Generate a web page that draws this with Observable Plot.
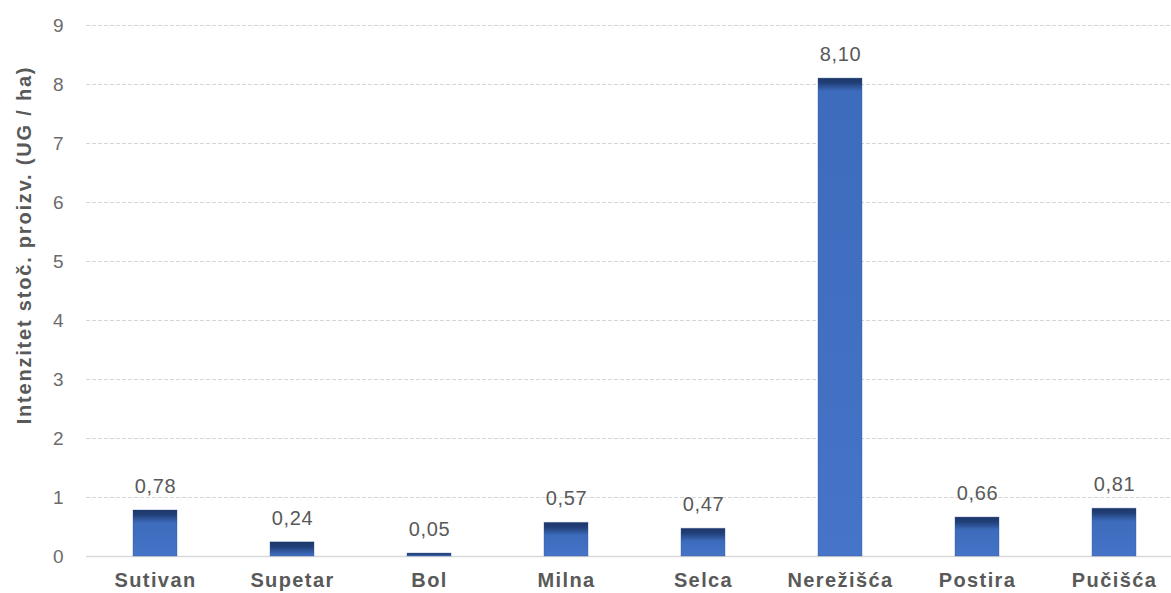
<!DOCTYPE html>
<html>
<head>
<meta charset="utf-8">
<script src="https://cdn.jsdelivr.net/npm/d3@7"></script>
<script src="https://cdn.jsdelivr.net/npm/@observablehq/plot@0.6"></script>
<style>
  html, body { margin: 0; padding: 0; background: #fff; }
  #chart svg { display: block; font-family: "Liberation Sans", Arial, sans-serif; }
  #chart g[aria-label="x-axis tick label"] text { letter-spacing: 1.4px; }
</style>
</head>
<body>
<div id="chart"></div>
<script>
const categories = ["Sutivan", "Supetar", "Bol", "Milna", "Selca", "Nerežišća", "Postira", "Pučišća"];
const values = [0.78, 0.24, 0.05, 0.57, 0.47, 8.10, 0.66, 0.81];
const yTicks = [0, 1, 2, 3, 4, 5, 6, 7, 8, 9];
const yTitle = "Intenzitet stoč. proizv. (UG / ha)";

const data = categories.map((c, i) => ({name: c, value: values[i]}));
const fmt = v => v.toFixed(2).replace(".", ",");

let gradCount = 0;
function gradientBars(index, scales, values, dimensions, context, next) {
  const g = next(index, scales, values, dimensions, context);
  const svg = context.ownerSVGElement;
  let defs = svg.querySelector("defs");
  if (!defs) { defs = document.createElementNS("http://www.w3.org/2000/svg", "defs"); svg.insertBefore(defs, svg.firstChild); }
  g.querySelectorAll("rect").forEach(r => {
    const h = +r.getAttribute("height");
    const id = "bg" + (gradCount++);
    const lg = document.createElementNS("http://www.w3.org/2000/svg", "linearGradient");
    lg.setAttribute("id", id);
    lg.setAttribute("x1", 0); lg.setAttribute("y1", 0); lg.setAttribute("x2", 0); lg.setAttribute("y2", 1);
    const t = Math.min(1, 13 / Math.max(h, 1));
    [[0, "#1c3566"], [t * 0.4, "#22417a"], [t, "#3d6cbd"], [1, "#4574c8"]].forEach(([o, c]) => {
      const s = document.createElementNS("http://www.w3.org/2000/svg", "stop");
      s.setAttribute("offset", o); s.setAttribute("stop-color", c);
      lg.appendChild(s);
    });
    defs.appendChild(lg);
    r.setAttribute("fill", `url(#${id})`);
  });
  return g;
}
function spacing(px) {
  return (index, scales, values, dimensions, context, next) => {
    const g = next(index, scales, values, dimensions, context);
    g.querySelectorAll("text").forEach(t => t.setAttribute("letter-spacing", px));
    return g;
  };
}

const chart = Plot.plot({
  width: 1171,
  height: 593,
  marginLeft: 86,
  marginRight: 0,
  marginTop: 25,
  marginBottom: 37,
  style: {fontFamily: "'Liberation Sans', Arial, sans-serif", fontSize: "20px", color: "#595959", background: "#fff"},
  x: {domain: categories, range: [86, 1182], paddingInner: 0.68, paddingOuter: 0.34, label: null},
  y: {domain: [0, 9], label: null},
  marks: [
    Plot.ruleY(yTicks.filter(d => d > 0), {stroke: "#d6d6d6", strokeDasharray: "4,2", strokeWidth: 1}),
    Plot.ruleY([0], {stroke: "#d9d9d9", strokeWidth: 1.5}),
    Plot.barY(data, {x: "name", y: "value", fill: "#4574c8", stroke: "#2f528f", strokeOpacity: 0.35, strokeWidth: 1, render: gradientBars}),
    Plot.text(data, {x: "name", y: "value", text: d => fmt(d.value), dy: -24, fill: "#595959", fontSize: 20, render: spacing("0.6px")}),
    Plot.axisX({tickSize: 0, tickPadding: 16, fontWeight: "bold", fontSize: 20, fill: "#595959", label: null}),
    Plot.axisY({ticks: yTicks, tickSize: 0, tickPadding: 23, fontSize: 19, fill: "#6b6b6b", label: null}),
    Plot.text([yTitle], {frameAnchor: "left", textAnchor: "middle", dx: -62, dy: -46, rotate: -90, fontWeight: "bold", fontSize: 20, fill: "#595959", render: spacing("1.8px")})
  ]
});
document.getElementById("chart").appendChild(chart);
</script>
</body>
</html>
